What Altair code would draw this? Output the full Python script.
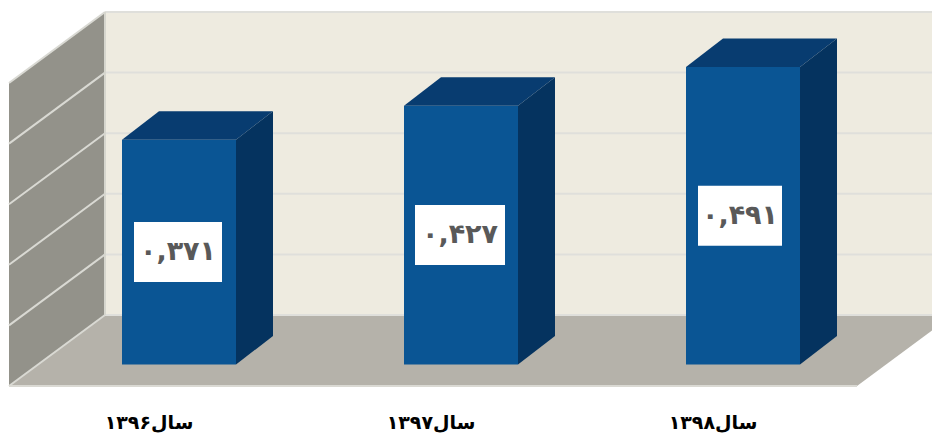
import altair as alt
import pandas as pd

# --- chart values ---
categories = ["سال۱۳۹۶", "سال۱۳۹۷", "سال۱۳۹۸"]
values = [0.371, 0.427, 0.491]
value_labels = ["۰,۳۷۱", "۰,۴۲۷", "۰,۴۹۱"]
grid_values = [0.0, 0.1, 0.2, 0.3, 0.4, 0.5]

# --- 3D geometry in data units (x: category slots, y: chart value) ---
PX_X = 1 / 282   # one screen pixel in slot units
PX_Y = 1 / 606   # one screen pixel in value units
X_DOMAIN = [-171 * PX_X, 753 * PX_X]
Y_DOMAIN = [-73.5 * PX_Y, 356.5 * PX_Y]
BAR_HALF = 57 * PX_X
BAR_DX, BAR_DY = 37 * PX_X, 28.5 * PX_Y
FLOOR_FRONT = -21.5 * PX_Y
WALL_DX, WALL_DY = 96 * PX_X, 71 * PX_Y
WALL_X = -170 * PX_X
FLOOR_RIGHT = 678 * PX_X
BACK_Y0 = FLOOR_FRONT + WALL_DY
BOX_HALF = [44 * PX_X, 45 * PX_X, 42 * PX_X]
BOX_SHIFT = [-1 * PX_X, -1 * PX_X, -3 * PX_X]
BOX_H = 30 * PX_Y
CAT_SHIFT = -30 * PX_X
CAT_Y = -58.5 * PX_Y

x_scale = alt.Scale(domain=X_DOMAIN, nice=False, zero=False)
y_scale = alt.Scale(domain=Y_DOMAIN, nice=False, zero=False)
X = alt.X("x:Q", scale=x_scale, axis=None)
Y = alt.Y("y:Q", scale=y_scale, axis=None)
Y2 = alt.Y2("y2:Q")


def face(rows, color):
    df = pd.DataFrame(rows, columns=["x", "y", "y2"])
    return alt.Chart(df).mark_area(color=color, opacity=1, clip=True, interpolate="linear").encode(x=X, y=Y, y2=Y2)


def seg(x0, y0, x1, y1, color, w=2):
    df = pd.DataFrame({"x": [x0, x1], "y": [y0, y1]})
    return alt.Chart(df).mark_line(color=color, strokeWidth=w, clip=True).encode(x=X, y=Y)


layers = []
back_right = FLOOR_RIGHT + WALL_DX
# back wall
layers.append(face([[WALL_X + WALL_DX, BACK_Y0 + 0.5, BACK_Y0],
                    [back_right, BACK_Y0 + 0.5, BACK_Y0]], "#EEEBE0"))
# left wall
layers.append(face([[WALL_X, FLOOR_FRONT + 0.5, FLOOR_FRONT],
                    [WALL_X + WALL_DX, BACK_Y0 + 0.5, BACK_Y0]], "#93928A"))
# floor
layers.append(face([[WALL_X, FLOOR_FRONT, FLOOR_FRONT],
                    [WALL_X + WALL_DX, BACK_Y0, FLOOR_FRONT],
                    [FLOOR_RIGHT, BACK_Y0, FLOOR_FRONT],
                    [back_right, BACK_Y0, BACK_Y0]], "#B5B2AA"))
# grid lines
for g in grid_values:
    layers.append(seg(WALL_X + WALL_DX, BACK_Y0 + g, back_right, BACK_Y0 + g, "#DFDFDB"))
    layers.append(seg(WALL_X, FLOOR_FRONT + g, WALL_X + WALL_DX, BACK_Y0 + g, "#D9D9D3"))
layers.append(seg(WALL_X + WALL_DX, BACK_Y0 + 0.5, WALL_X + WALL_DX, BACK_Y0, "#D6D6CE"))
layers.append(seg(WALL_X, FLOOR_FRONT, FLOOR_RIGHT, FLOOR_FRONT, "#DAD9D3"))

# bars
for i, v in enumerate(values):
    l, r = i - BAR_HALF, i + BAR_HALF
    layers.append(face([[l, v, 0], [r, v, 0]], "#0A5594"))
    layers.append(face([[l, v, v],
                        [l + BAR_DX, v + BAR_DY, v],
                        [r, v + BAR_DY, v],
                        [r + BAR_DX, v + BAR_DY, v + BAR_DY]], "#083C70"))
    layers.append(face([[r, v, 0], [r + BAR_DX, v + BAR_DY, BAR_DY]], "#05335F"))

# value labels on white boxes
box_df = pd.DataFrame({
    "x": [i + s - h for i, (s, h) in enumerate(zip(BOX_SHIFT, BOX_HALF))],
    "x2": [i + s + h for i, (s, h) in enumerate(zip(BOX_SHIFT, BOX_HALF))],
    "y": [v / 2 + BOX_H for v in values],
    "y2": [v / 2 - BOX_H for v in values],
    "cx": [i + s for i, s in enumerate(BOX_SHIFT)],
    "cy": [v / 2 for v in values],
    "label": value_labels,
})
layers.append(alt.Chart(box_df).mark_rect(color="white").encode(x=X, x2=alt.X2("x2:Q"), y=Y, y2=Y2))
layers.append(alt.Chart(box_df).mark_text(
    font="DejaVu Sans", fontWeight="bold", fontSize=27, color="#595959", baseline="middle", align="center"
).encode(x=alt.X("cx:Q", scale=x_scale, axis=None), y=alt.Y("cy:Q", scale=y_scale, axis=None), text="label:N"))

# category labels
cat_df = pd.DataFrame({"x": [i + CAT_SHIFT for i in range(3)], "y": [CAT_Y] * 3, "label": categories})
layers.append(alt.Chart(cat_df).mark_text(
    font="DejaVu Sans", fontWeight="bold", fontSize=19, color="#000000", baseline="middle", align="center"
).encode(x=X, y=Y, text="label:N"))

chart = alt.layer(*layers).properties(
    width=924, height=430, padding=0, autosize=alt.AutoSizeParams(type="none"), background="white"
).configure_view(stroke=None)

chart.save("out.html", embed_options={"renderer": "svg", "actions": False})
